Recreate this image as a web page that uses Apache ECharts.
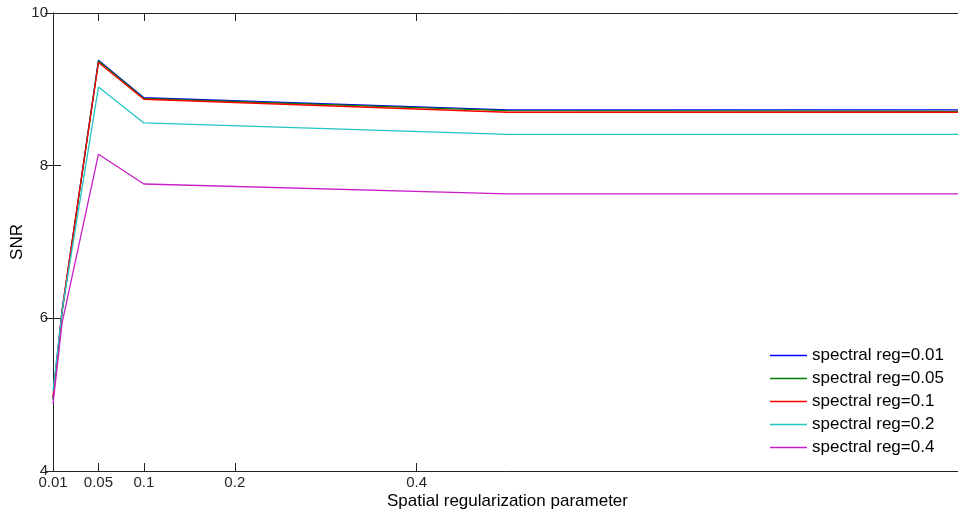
<!DOCTYPE html>
<html>
<head>
<meta charset="utf-8">
<script src="https://cdn.jsdelivr.net/npm/echarts@6/dist/echarts.min.js"></script>
<style>
  html, body { margin: 0; padding: 0; background: #fff; }
  #chart { width: 958px; height: 512px; }
</style>
</head>
<body>
<div id="chart"></div>
<script>
// Spatial regularization values where SNR was measured
const spatialReg = [0, 0.01, 0.05, 0.1, 0.5, 1];

// SNR for each spectral regularization setting
const snrSpec001 = [4.95, 6.10, 9.38, 8.89, 8.73, 8.73];
const snrSpec005 = [4.93, 6.08, 9.37, 8.88, 8.72, 8.71];
const snrSpec01  = [4.97, 6.12, 9.35, 8.87, 8.70, 8.70];
const snrSpec02  = [5.05, 6.10, 9.03, 8.56, 8.41, 8.41];
const snrSpec04  = [4.88, 5.94, 8.15, 7.76, 7.63, 7.63];

const seriesNames = [
  'spectral reg=0.01',
  'spectral reg=0.05',
  'spectral reg=0.1',
  'spectral reg=0.2',
  'spectral reg=0.4'
];
const seriesColors = ['#0000ff', '#008000', '#ff0000', '#22c4c4', '#c81ec8'];
const seriesValues = [snrSpec001, snrSpec005, snrSpec01, snrSpec02, snrSpec04];

// x-axis tick positions and their printed labels
const xTickValues = [0, 0.05, 0.1, 0.2, 0.4];
const xTickLabels = ['0.01', '0.05', '0.1', '0.2', '0.4'];

const axisColor = '#222';
const fontFamily = 'Liberation Sans, Arial, sans-serif';

const chart = echarts.init(document.getElementById('chart'), null, { renderer: 'canvas' });

const series = seriesValues.map((vals, i) => ({
  name: seriesNames[i],
  type: 'line',
  xAxisIndex: 0,
  yAxisIndex: 0,
  data: vals.map((v, k) => [spatialReg[k], v]),
  showSymbol: false,
  symbol: 'none',
  lineStyle: { color: seriesColors[i], width: 1.3 },
  itemStyle: { color: seriesColors[i] },
  animation: false,
  z: 2 + i
}));

const baseAxis = {
  type: 'value',
  axisLine: { show: true, lineStyle: { color: axisColor, width: 1 } },
  splitLine: { show: false }
};

chart.setOption({
  backgroundColor: '#ffffff',
  animation: false,
  textStyle: { fontFamily: fontFamily },
  grid: { left: 53, right: -4, top: 13, bottom: 41, containLabel: false, outerBoundsMode: 'none' },
  legend: {
    orient: 'vertical',
    left: 770,
    top: 347,
    padding: 0,
    itemWidth: 37,
    itemHeight: 1.5,
    itemGap: 6,
    icon: 'rect',
    textStyle: { fontSize: 17, color: '#000', lineHeight: 17, padding: [0, 0, 0, 0] },
    data: seriesNames.map((n, i) => ({ name: n, itemStyle: { color: seriesColors[i] } }))
  },
  xAxis: [
    Object.assign({}, baseAxis, {
      position: 'bottom',
      min: 0,
      max: 1,
      name: 'Spatial regularization parameter',
      nameLocation: 'middle',
      nameGap: 22,
      nameMoveOverlap: false,
      nameTextStyle: { fontSize: 17, color: '#000', verticalAlign: 'top' },
      axisTick: { show: true, inside: true, length: 8, customValues: xTickValues, lineStyle: { color: axisColor } },
      axisLabel: {
        show: true,
        customValues: xTickValues,
        margin: 4,
        fontSize: 15,
        color: '#262626',
        formatter: (v) => {
          const idx = xTickValues.findIndex(t => Math.abs(t - v) < 1e-9);
          return idx >= 0 ? xTickLabels[idx] : '';
        }
      }
    }),
    Object.assign({}, baseAxis, {
      position: 'top',
      min: 0,
      max: 1,
      axisTick: { show: true, inside: true, length: 8, customValues: xTickValues, lineStyle: { color: axisColor } },
      axisLabel: { show: false }
    })
  ],
  yAxis: [
    Object.assign({}, baseAxis, {
      position: 'left',
      min: 4,
      max: 10,
      interval: 2,
      name: 'SNR',
      nameLocation: 'middle',
      nameGap: 27,
      nameMoveOverlap: false,
      nameRotate: 90,
      nameTextStyle: { fontSize: 17, color: '#000' },
      axisTick: { show: true, inside: true, length: 8, lineStyle: { color: axisColor } },
      axisLabel: { show: true, margin: 5, fontSize: 15, color: '#262626' }
    }),
    Object.assign({}, baseAxis, {
      position: 'right',
      min: 4,
      max: 10,
      interval: 2,
      axisTick: { show: true, inside: true, length: 8, lineStyle: { color: axisColor } },
      axisLabel: { show: false }
    })
  ],
  series: series
});
</script>
</body>
</html>
